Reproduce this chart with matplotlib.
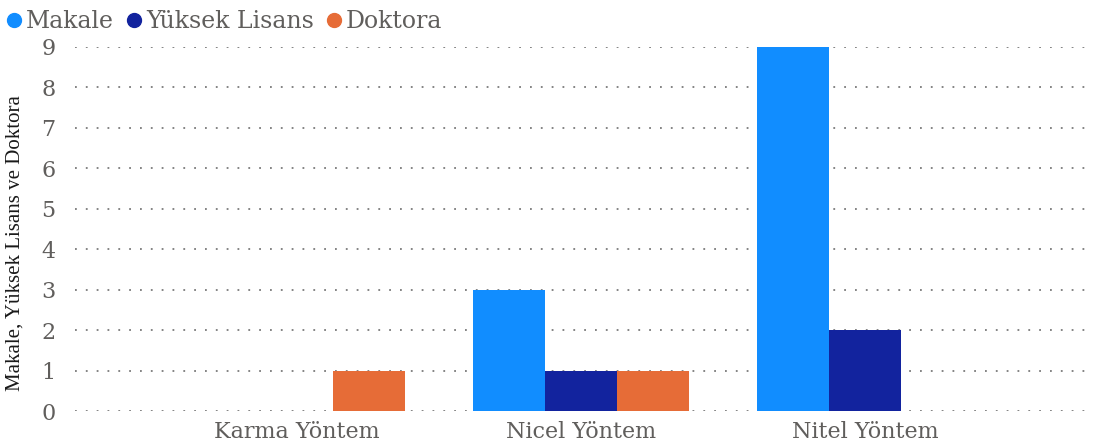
import numpy as np
import matplotlib.pyplot as plt
from matplotlib.lines import Line2D

# chart data
categories = ['Karma Yöntem', 'Nicel Yöntem', 'Nitel Yöntem']
series_names = ['Makale', 'Yüksek Lisans', 'Doktora']
makale = [0, 3, 9]
yuksek_lisans = [0, 1, 2]
doktora = [1, 1, 0]
colors = ['#118DFF', '#12239E', '#E66C37']

plt.rcParams['font.family'] = ['DejaVu Serif']
text_color = '#605E5C'

fig = plt.figure(figsize=(10.98, 4.47), dpi=100)
ax = fig.add_axes([0.0683, 0.0805, 0.9244, 0.8144])

x = np.arange(len(categories))
width = 0.254
for i, (vals, name) in enumerate(zip([makale, yuksek_lisans, doktora], series_names)):
    ax.bar(x + (i - 1) * width, vals, width, color=colors[i], label=name, zorder=2)

ax.set_xlim(-0.78, 2.79)
ax.set_ylim(0, 9)
ax.set_yticks(range(0, 10))
ax.set_xticks(x)
ax.set_xticklabels(categories, fontsize=16, color=text_color)
ax.tick_params(axis='y', labelsize=16, labelcolor=text_color, length=0, pad=14)
ax.tick_params(axis='x', length=0, pad=7)
ax.grid(axis='y', color='#7a7a7a', linestyle=(0, (1, 5)), linewidth=1.3, zorder=0)
for s in ax.spines.values():
    s.set_visible(False)

ax.set_ylabel('Makale, Yüksek Lisans ve Doktora', fontsize=15, color='#1a1a1a',
              family='Liberation Serif')
ax.yaxis.set_label_coords(-0.05, 0.46)

# legend at top left
markers = [Line2D([0], [0], marker='o', linestyle='', color=c, markersize=10) for c in colors]
fig.legend(markers, series_names, loc='upper left', bbox_to_anchor=(-0.015, 1.025), ncol=3,
           frameon=False, prop={'family': 'DejaVu Serif', 'size': 17},
           handletextpad=0.1, columnspacing=0.45, handlelength=0.8, labelcolor=text_color)

plt.savefig('out.png', dpi=100)
